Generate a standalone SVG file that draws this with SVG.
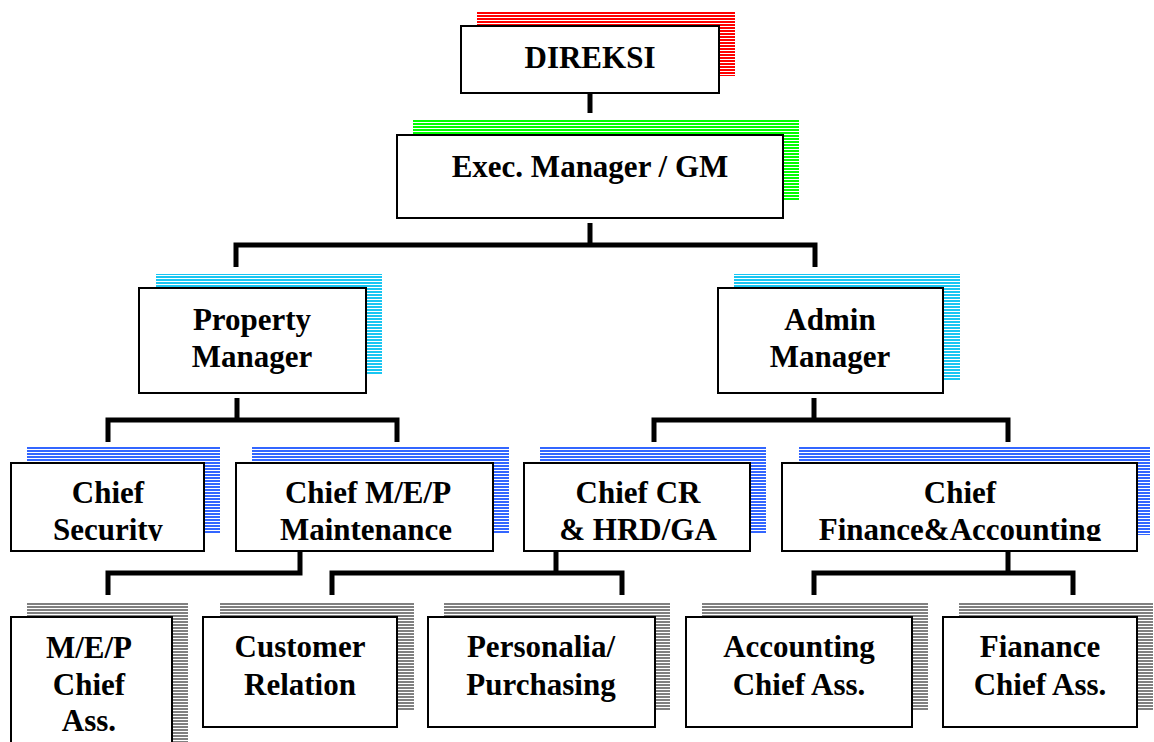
<svg xmlns="http://www.w3.org/2000/svg" width="1154" height="742" viewBox="0 0 1154 742">
<defs>
<pattern id="pRed" width="8" height="3" patternUnits="userSpaceOnUse"><rect width="8" height="2" fill="#ff0000"/></pattern>
<pattern id="pGreen" width="8" height="3" patternUnits="userSpaceOnUse"><rect width="8" height="2" fill="#00ff00"/></pattern>
<pattern id="pCyan" width="8" height="3" patternUnits="userSpaceOnUse"><rect width="8" height="2" fill="#19c6f2"/></pattern>
<pattern id="pBlue" width="8" height="3" patternUnits="userSpaceOnUse"><rect width="8" height="2" fill="#3366ff"/></pattern>
<pattern id="pGray" width="8" height="3" patternUnits="userSpaceOnUse"><rect width="8" height="2" fill="#808080"/></pattern>
<clipPath id="clip4"><rect x="0" y="0" width="1154" height="541"/></clipPath>
</defs>
<style>
.box{fill:#fff;stroke:#000;stroke-width:2}
.t{font-family:"Liberation Serif","Times New Roman",serif;font-weight:bold;font-size:31px;fill:#000;text-anchor:middle}
.c{fill:none;stroke:#000;stroke-width:5;stroke-linejoin:miter;stroke-linecap:butt}
</style>
<rect width="1154" height="742" fill="#fff"/>

<g id="connectors">
<path class="c" d="M590 93V113"/>
<path class="c" d="M590 223V245M236 267V245H815V267"/>
<path class="c" d="M237 398V420M108 442V420H397V442"/>
<path class="c" d="M814 398V420M654 442V420H1008V442"/>
<path class="c" d="M300 551V573H108V595"/>
<path class="c" d="M556 551V573M332 595V573H622V595"/>
<path class="c" d="M1008 551V573M814 595V573H1073V595"/>
</g>

<g id="direksi">
<rect x="477" y="11" width="258" height="65" fill="url(#pRed)"/>
<rect class="box" x="461" y="26" width="258" height="67"/>
<text class="t" x="590" y="68">DIREKSI</text>
</g>

<g id="exec">
<rect x="413" y="119" width="386" height="82" fill="url(#pGreen)"/>
<rect class="box" x="397" y="135" width="386" height="83"/>
<text class="t" x="590" y="177">Exec. Manager / GM</text>
</g>

<g id="property">
<rect x="156" y="274" width="226" height="101" fill="url(#pCyan)"/>
<rect class="box" x="139" y="288" width="227" height="105"/>
<text class="t" x="252" y="330">Property</text>
<text class="t" x="252" y="367">Manager</text>
</g>

<g id="admin">
<rect x="734" y="274" width="226" height="107" fill="url(#pCyan)"/>
<rect class="box" x="718" y="288" width="225" height="105"/>
<text class="t" x="830" y="330">Admin</text>
<text class="t" x="830" y="367">Manager</text>
</g>

<g id="chief-security">
<rect x="27" y="447" width="193" height="87" fill="url(#pBlue)"/>
<rect class="box" x="11" y="463" width="193" height="88"/>
<g clip-path="url(#clip4)">
<text class="t" x="108" y="503">Chief</text>
<text class="t" x="108" y="540">Security</text>
</g>
</g>

<g id="chief-mep">
<rect x="252" y="447" width="257" height="87" fill="url(#pBlue)"/>
<rect class="box" x="236" y="463" width="257" height="88"/>
<g clip-path="url(#clip4)">
<text class="t" x="368" y="503">Chief M/E/P</text>
<text class="t" x="366" y="540">Maintenance</text>
</g>
</g>

<g id="chief-cr">
<rect x="540" y="447" width="226" height="87" fill="url(#pBlue)"/>
<rect class="box" x="524" y="463" width="226" height="88"/>
<g clip-path="url(#clip4)">
<text class="t" x="638" y="503">Chief CR</text>
<text class="t" x="638" y="540">&amp; HRD/GA</text>
</g>
</g>

<g id="chief-finance">
<rect x="799" y="447" width="351" height="88" fill="url(#pBlue)"/>
<rect class="box" x="782" y="463" width="355" height="88"/>
<g clip-path="url(#clip4)">
<text class="t" x="960" y="503">Chief</text>
<text class="t" x="960" y="540">Finance&amp;Accounting</text>
</g>
</g>

<g id="mep-ass">
<rect x="27" y="602" width="161" height="140" fill="url(#pGray)"/>
<rect class="box" x="11" y="617" width="161" height="140"/>
<text class="t" x="89" y="658">M/E/P</text>
<text class="t" x="89" y="695">Chief</text>
<text class="t" x="89" y="731">Ass.</text>
</g>

<g id="customer-relation">
<rect x="220" y="602" width="194" height="108" fill="url(#pGray)"/>
<rect class="box" x="203" y="617" width="194" height="110"/>
<text class="t" x="300" y="657">Customer</text>
<text class="t" x="300" y="695">Relation</text>
</g>

<g id="personalia">
<rect x="444" y="602" width="226" height="108" fill="url(#pGray)"/>
<rect class="box" x="428" y="617" width="227" height="110"/>
<text class="t" x="541" y="657">Personalia/</text>
<text class="t" x="541" y="695">Purchasing</text>
</g>

<g id="accounting">
<rect x="702" y="602" width="226" height="108" fill="url(#pGray)"/>
<rect class="box" x="686" y="617" width="226" height="110"/>
<text class="t" x="799" y="657">Accounting</text>
<text class="t" x="799" y="695">Chief Ass.</text>
</g>

<g id="finance-ass">
<rect x="959" y="602" width="194" height="108" fill="url(#pGray)"/>
<rect class="box" x="943" y="617" width="194" height="110"/>
<text class="t" x="1040" y="657">Fianance</text>
<text class="t" x="1040" y="695">Chief Ass.</text>
</g>
</svg>
